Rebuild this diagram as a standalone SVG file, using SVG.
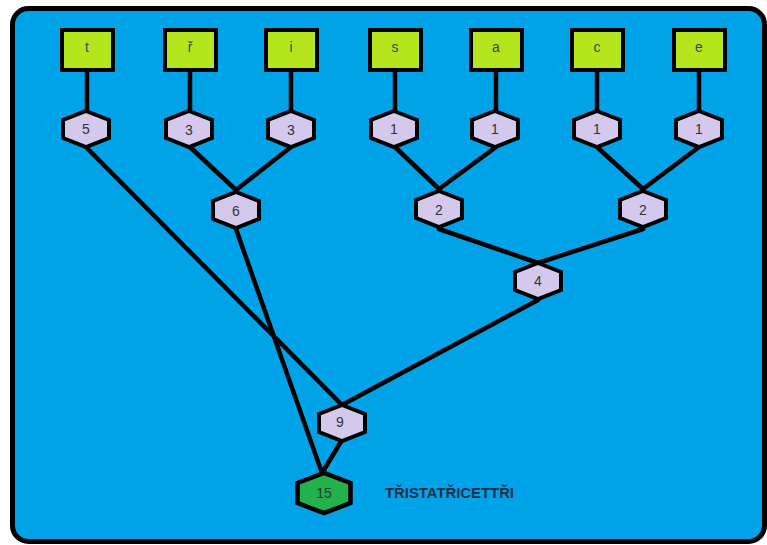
<svg xmlns="http://www.w3.org/2000/svg" width="767" height="545" viewBox="0 0 767 545">
<style>
.sq{fill:#b5e61d;stroke:#000;stroke-width:4}
.hx{fill:#d4c9ec;stroke:#000;stroke-width:4;stroke-linejoin:miter}
.root{fill:#22b14c}
.lt{font-family:"Liberation Sans",Arial,sans-serif;font-size:14px;fill:#444;text-anchor:middle}
.nm{font-family:"Liberation Sans",Arial,sans-serif;font-size:14px;fill:#333;text-anchor:middle;dominant-baseline:central}
.cn line{stroke:#000;stroke-width:4.5;stroke-linecap:round}
</style>
<defs>
<polygon id="hex" points="0,-18 23,-9 23,9 0,18 -23,9 -23,-9"/>
</defs>
<rect width="767" height="545" fill="#fff"/>
<rect x="12.5" y="8.5" width="752" height="533" rx="16" fill="#00a2e8" stroke="#000" stroke-width="5"/>
<g id="connectors" class="cn">
<line x1="87" y1="58" x2="87" y2="111"/>
<line x1="190" y1="58" x2="190" y2="111"/>
<line x1="291" y1="58" x2="291" y2="111"/>
<line x1="395" y1="58" x2="395" y2="111"/>
<line x1="496" y1="58" x2="496" y2="111"/>
<line x1="597" y1="58" x2="597" y2="111"/>
<line x1="699" y1="58" x2="699" y2="111"/>
<line x1="86" y1="147" x2="342" y2="405"/>
<line x1="190" y1="147" x2="236" y2="190"/>
<line x1="291" y1="147" x2="236" y2="190"/>
<line x1="395" y1="147" x2="439" y2="189"/>
<line x1="496" y1="147" x2="439" y2="189"/>
<line x1="597" y1="147" x2="643" y2="189"/>
<line x1="699" y1="147" x2="643" y2="189"/>
<line x1="439" y1="229" x2="538" y2="263"/>
<line x1="643" y1="229" x2="538" y2="263"/>
<line x1="538" y1="300" x2="342" y2="405"/>
<line x1="236" y1="229" x2="322" y2="473"/>
<line x1="342" y1="440" x2="322" y2="473"/>
</g>
<g id="sq-t"><rect class="sq" x="62" y="30" width="51" height="40"/><text class="lt" x="87" y="52">t</text></g>
<g id="sq-r"><rect class="sq" x="165" y="30" width="51" height="40"/><text class="lt" x="190" y="52">ř</text></g>
<g id="sq-i"><rect class="sq" x="266" y="30" width="51" height="40"/><text class="lt" x="291" y="52">i</text></g>
<g id="sq-s"><rect class="sq" x="370" y="30" width="51" height="40"/><text class="lt" x="395" y="52">s</text></g>
<g id="sq-a"><rect class="sq" x="471" y="30" width="51" height="40"/><text class="lt" x="496" y="52">a</text></g>
<g id="sq-c"><rect class="sq" x="572" y="30" width="51" height="40"/><text class="lt" x="597" y="52">c</text></g>
<g id="sq-e"><rect class="sq" x="674" y="30" width="51" height="40"/><text class="lt" x="699" y="52">e</text></g>
<g id="h-t"><use href="#hex" class="hx" x="86" y="129"/><text class="nm" x="86" y="129">5</text></g>
<g id="h-r"><use href="#hex" class="hx" x="189" y="129"/><text class="nm" x="189" y="130">3</text></g>
<g id="h-i"><use href="#hex" class="hx" x="291" y="129"/><text class="nm" x="291" y="130">3</text></g>
<g id="h-s"><use href="#hex" class="hx" x="394" y="129"/><text class="nm" x="394" y="129">1</text></g>
<g id="h-a"><use href="#hex" class="hx" x="495" y="129"/><text class="nm" x="495" y="129">1</text></g>
<g id="h-c"><use href="#hex" class="hx" x="597" y="129"/><text class="nm" x="597" y="129">1</text></g>
<g id="h-e"><use href="#hex" class="hx" x="699" y="129"/><text class="nm" x="699" y="129">1</text></g>
<g id="h-6"><use href="#hex" class="hx" x="236" y="210"/><text class="nm" x="236" y="211">6</text></g>
<g id="h-2a"><use href="#hex" class="hx" x="439" y="209"/><text class="nm" x="439" y="210">2</text></g>
<g id="h-2b"><use href="#hex" class="hx" x="643" y="209"/><text class="nm" x="643" y="210">2</text></g>
<g id="h-4"><use href="#hex" class="hx" x="538" y="281"/><text class="nm" x="538" y="281">4</text></g>
<g id="h-9"><use href="#hex" class="hx" x="342" y="423"/><text class="nm" x="340" y="422">9</text></g>
<g id="h-15"><use href="#hex" class="hx root" x="324" y="493" transform="translate(324 493) scale(1.15 1.12) translate(-324 -493)"/><text class="nm" x="324" y="493" font-size="15">15</text></g>
<text x="385" y="498" font-family="'Liberation Sans',Arial,sans-serif" font-size="14" font-weight="bold" fill="#1b2f4a" textLength="129" lengthAdjust="spacingAndGlyphs">TŘISTATŘICETTŘI</text>
</svg>
